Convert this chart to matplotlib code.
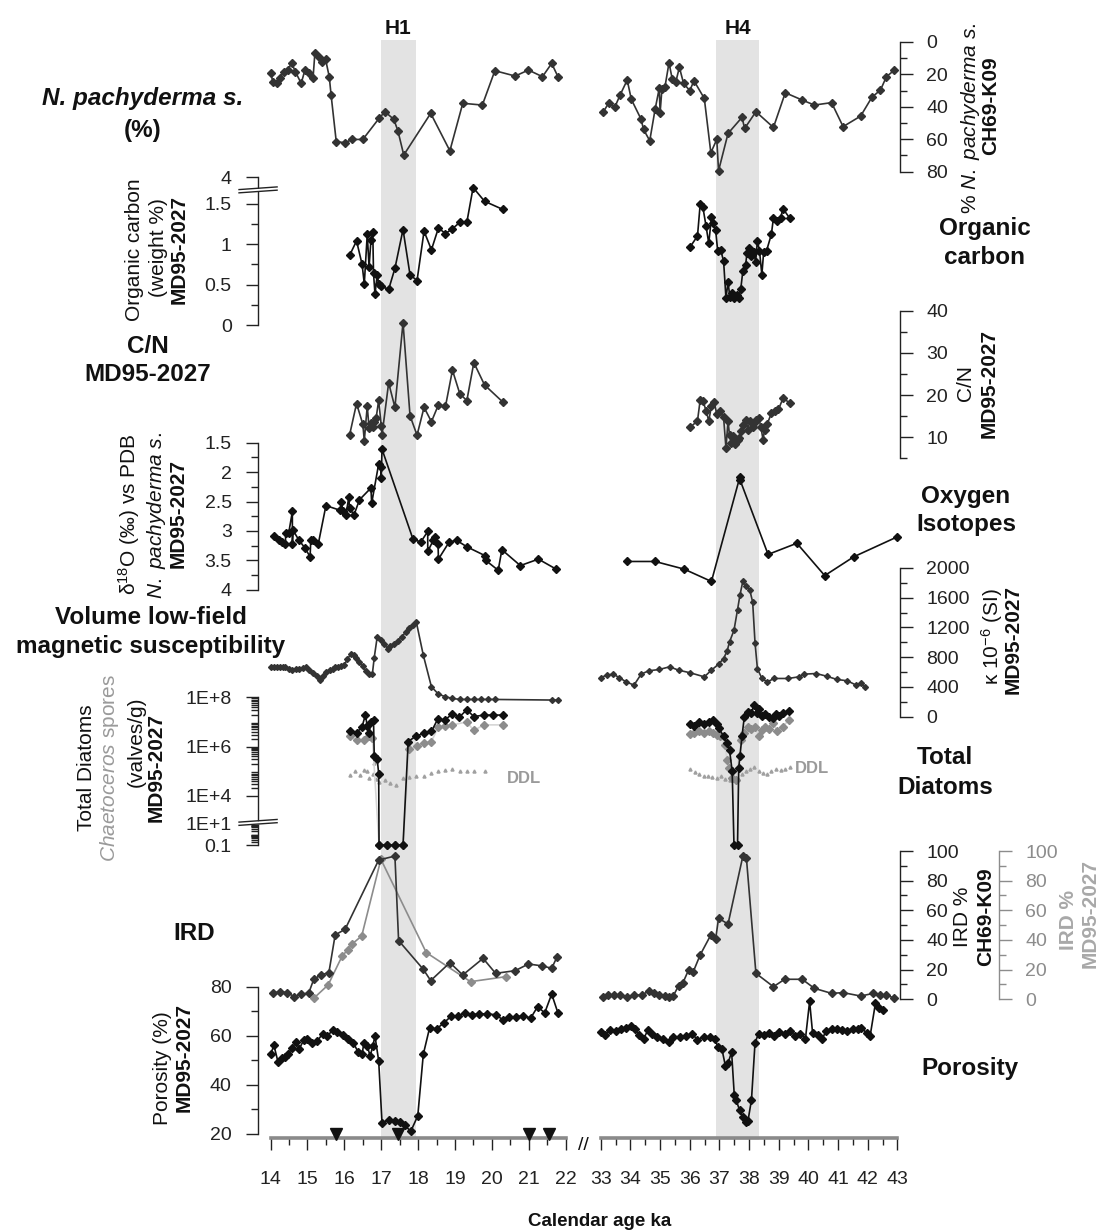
import matplotlib
matplotlib.use("Agg")
import matplotlib.pyplot as plt
import numpy as np

plt.rcParams['font.family'] = ['Liberation Sans', 'DejaVu Sans']
plt.rcParams['mathtext.fontset'] = 'custom'
plt.rcParams['mathtext.rm'] = 'Liberation Sans'
plt.rcParams['mathtext.it'] = 'Liberation Sans:italic'
plt.rcParams['mathtext.bf'] = 'Liberation Sans:bold'
plt.rcParams['mathtext.default'] = 'regular'

# ---------------- data (calendar age ka) ----------------
# Heinrich events
h1_span = (16.98, 17.95)
h4_span = (36.90, 38.33)
left_ticks = list(range(14, 23))
right_ticks = list(range(33, 44))
age_control = [15.77, 17.45, 21.00, 21.56]

# % N. pachyderma s. (CH69-K09)
np_age_l = [14.00, 14.06, 14.18, 14.25, 14.35, 14.47, 14.57, 14.67, 14.83, 14.93,
            15.03, 15.15, 15.20, 15.30, 15.39, 15.49, 15.59, 15.64, 15.78, 16.02,
            16.21, 16.50, 16.94, 17.10, 17.34, 17.45, 17.61, 18.34, 18.86, 19.21,
            19.74, 20.08, 20.63, 20.99, 21.37, 21.62, 21.79]
np_pct_l = [18.9, 24.5, 25.1, 22.4, 18.3, 17.3, 12.8, 18.3, 25.5, 17.3,
            19.3, 22.4, 7.0, 9.1, 12.1, 10.7, 21.4, 32.7, 61.5, 62.1,
            60.1, 60.1, 47.1, 43.0, 47.7, 54.7, 69.7, 44.0, 67.1, 37.8,
            38.9, 17.7, 21.0, 17.3, 21.4, 13.2, 21.4]
np_age_r = [33.09, 33.26, 33.47, 33.65, 33.89, 34.03, 34.36, 34.44, 34.65, 34.83,
            34.97, 35.00, 35.06, 35.16, 35.30, 35.41, 35.53, 35.65, 35.79, 36.00,
            36.14, 36.49, 36.71, 36.91, 36.97, 37.29, 37.76, 37.85, 38.23, 38.82,
            39.22, 39.79, 40.20, 40.78, 41.17, 41.76, 42.14, 42.43, 42.63, 42.90]
np_pct_r = [43.0, 37.8, 40.3, 32.7, 23.5, 35.4, 47.7, 53.9, 60.9, 41.6,
            28.6, 43.6, 29.2, 28.0, 12.8, 23.0, 24.5, 15.6, 25.5, 30.0,
            23.9, 34.8, 68.3, 60.1, 79.4, 56.4, 46.5, 53.3, 43.0, 52.7,
            31.3, 35.8, 38.9, 37.4, 52.2, 45.7, 34.1, 29.6, 21.4, 17.3]

# Organic carbon (weight %)
oc_age_l = [16.14, 16.33, 16.48, 16.54, 16.62, 16.67, 16.72, 16.77, 16.79, 16.83,
            16.89, 16.93, 17.00, 17.20, 17.37, 17.59, 17.78, 17.97, 18.16, 18.36,
            18.55, 18.74, 18.93, 19.13, 19.32, 19.49, 19.80, 20.29]
oc_val_l = [0.86, 1.04, 0.75, 0.51, 1.12, 0.72, 1.05, 1.15, 0.64, 0.38,
            0.62, 0.51, 0.48, 0.44, 0.70, 1.18, 0.62, 0.55, 1.16, 0.93,
            1.20, 1.13, 1.19, 1.27, 1.27, 1.70, 1.53, 1.43]
oc_age_r = [36.02, 36.26, 36.35, 36.44, 36.55, 36.64, 36.73, 36.79, 36.87, 36.94,
            37.04, 37.14, 37.22, 37.29, 37.35, 37.43, 37.49, 37.58, 37.65, 37.72,
            37.79, 37.88, 37.93, 38.00, 38.08, 38.16, 38.22, 38.28, 38.35, 38.43,
            38.49, 38.59, 38.75, 38.82, 38.94, 39.06, 39.14, 39.37]
oc_val_r = [0.97, 1.10, 1.49, 1.46, 1.22, 1.01, 1.33, 1.26, 1.18, 0.92,
            0.93, 0.79, 0.33, 0.53, 0.35, 0.39, 0.33, 0.37, 0.33, 0.45,
            0.67, 0.74, 0.89, 0.95, 0.85, 0.90, 0.78, 1.04, 0.92, 0.62,
            0.90, 0.92, 1.12, 1.32, 1.29, 1.32, 1.44, 1.32]

# C/N
cn_age_l = [16.14, 16.33, 16.50, 16.54, 16.62, 16.67, 16.72, 16.77, 16.81, 16.86,
            16.93, 17.00, 17.02, 17.20, 17.37, 17.59, 17.78, 17.97, 18.16, 18.36,
            18.55, 18.74, 18.93, 19.13, 19.32, 19.51, 19.80, 20.29]
cn_val_l = [10.5, 18.0, 13.1, 9.2, 17.4, 12.1, 13.5, 12.5, 13.7, 14.5,
            18.8, 12.7, 10.5, 22.9, 17.1, 37.2, 15.1, 10.5, 17.1, 13.7,
            17.7, 17.3, 25.9, 20.3, 18.7, 27.7, 22.4, 18.4]
cn_age_r = [36.02, 36.26, 36.35, 36.44, 36.55, 36.64, 36.73, 36.82, 36.91, 37.02,
            37.14, 37.22, 37.29, 37.34, 37.40, 37.47, 37.53, 37.61, 37.67, 37.73,
            37.81, 37.90, 37.96, 38.02, 38.12, 38.18, 38.23, 38.32, 38.40, 38.47,
            38.52, 38.61, 38.75, 38.87, 38.99, 39.14, 39.37]
cn_val_r = [12.4, 13.9, 18.8, 18.7, 16.3, 13.9, 17.4, 18.4, 15.5, 16.3,
            14.7, 7.4, 13.9, 10.5, 8.7, 10.3, 8.4, 9.4, 9.8, 11.6,
            12.9, 14.1, 11.7, 13.9, 12.4, 13.3, 14.1, 14.5, 12.4, 9.4,
            11.7, 13.1, 15.7, 16.3, 16.6, 19.2, 18.2]

# d18O N. pachyderma s. (permil vs PDB)
d18_age_l = [14.09, 14.22, 14.30, 14.40, 14.41, 14.49, 14.59, 14.59, 14.61, 14.76,
             14.93, 15.07, 15.09, 15.15, 15.29, 15.50, 15.89, 15.92, 15.96, 16.04,
             16.12, 16.14, 16.26, 16.41, 16.72, 16.74, 16.93, 16.99, 17.00, 17.02,
             17.86, 18.07, 18.26, 18.26, 18.41, 18.46, 18.54, 18.55, 18.84, 19.04,
             19.32, 19.81, 19.83, 20.17, 20.27, 20.77, 21.26, 21.74]
d18_val_l = [3.09, 3.16, 3.19, 3.22, 3.04, 3.04, 2.67, 3.22, 2.99, 3.15,
             3.29, 3.44, 3.15, 3.15, 3.23, 2.57, 2.65, 2.50, 2.67, 2.73,
             2.43, 2.61, 2.73, 2.47, 2.27, 2.53, 1.86, 1.91, 2.10, 1.61,
             3.14, 3.19, 3.01, 3.35, 3.16, 3.10, 3.23, 3.48, 3.19, 3.16,
             3.27, 3.42, 3.50, 3.67, 3.32, 3.59, 3.48, 3.65]
d18_age_r = [33.89, 34.83, 35.81, 36.73, 37.69, 37.70, 38.64, 39.61, 40.55, 41.53, 43.00]
d18_val_r = [3.52, 3.52, 3.65, 3.86, 2.08, 2.14, 3.40, 3.21, 3.76, 3.44, 3.10]

# magnetic susceptibility (k 10-6 SI)
ms_age_l = [14.00, 14.08, 14.16, 14.25, 14.33, 14.40, 14.50, 14.59, 14.68, 14.78,
            14.87, 14.96, 15.05, 15.15, 15.25, 15.34, 15.42, 15.51, 15.60, 15.68,
            15.75, 15.83, 15.91, 15.99, 16.08, 16.18, 16.25, 16.32, 16.41, 16.50,
            16.58, 16.66, 16.76, 16.81, 16.89, 17.00, 17.08, 17.17, 17.25, 17.34,
            17.45, 17.56, 17.66, 17.76, 17.85, 17.95, 18.14, 18.36, 18.55, 18.74,
            18.93, 19.13, 19.32, 19.51, 19.71, 19.90, 20.09, 21.64, 21.78]
ms_val_l = [670, 665, 662, 668, 672, 670, 645, 626, 640, 648,
            660, 662, 630, 590, 545, 500, 550, 603, 625, 645,
            662, 672, 680, 693, 770, 849, 830, 796, 740, 679,
            620, 581, 581, 796, 1073, 1028, 975, 916, 950, 974,
            1020, 1073, 1140, 1198, 1240, 1274, 827, 402, 304, 268,
            246, 232, 232, 232, 232, 232, 232, 224, 224]
ms_age_r = [33.00, 33.20, 33.42, 33.62, 33.85, 34.12, 34.36, 34.61, 34.97, 35.32,
            35.62, 36.02, 36.49, 36.73, 36.97, 37.14, 37.26, 37.34, 37.49, 37.61,
            37.69, 37.79, 37.91, 38.02, 38.12, 38.20, 38.28, 38.43, 38.61, 38.85,
            39.32, 39.67, 39.85, 40.26, 40.61, 40.96, 41.31, 41.61, 41.78, 41.90]
ms_val_r = [527, 559, 572, 527, 469, 425, 572, 617, 635, 671,
            626, 590, 536, 626, 706, 782, 885, 1006, 1162, 1439,
            1632, 1824, 1752, 1708, 1542, 992, 648, 514, 469, 514,
            514, 536, 572, 581, 545, 501, 483, 425, 447, 393]

# total diatoms / Chaetoceros spores / DDL (valves/g); 0.1 = none found
td_age_l = [16.14, 16.33, 16.48, 16.57, 16.62, 16.67, 16.72, 16.79, 16.81, 16.89,
            16.93, 16.94, 17.15, 17.37, 17.59, 17.73, 17.93, 18.16, 18.36, 18.53,
            18.72, 18.93, 19.11, 19.32, 19.51, 19.78, 20.04, 20.29]
td_val_l = [4.1e6, 3.5e6, 6.5e6, 1.9e7, 6.9e6, 3.7e6, 1.0e7, 1.15e7, 4.0e5, 3.1e5,
            8.0e4, 0.1, 0.1, 0.1, 0.1, 1.6e6, 2.6e6, 3.5e6, 4.1e6, 1.3e7,
            1.2e7, 2.1e7, 1.55e7, 3.1e7, 1.65e7, 1.9e7, 1.9e7, 1.9e7]
ch_age_l = [16.14, 16.33, 16.52, 16.67, 16.76, 16.94, 17.15, 17.37, 17.59, 17.76,
            17.96, 18.16, 18.36, 18.55, 18.74, 18.93, 19.32, 19.51, 19.78, 20.29]
ch_val_l = [2.6e6, 1.8e6, 1.9e6, 2.6e6, 2.2e6, 0.1, 0.1, 0.1, 0.1, 7.8e5,
            1.07e6, 1.45e6, 1.6e6, 6.5e6, 6.9e6, 7.6e6, 1.0e7, 4.5e6, 7.6e6, 7.6e6]
ddl_age_l = [16.14, 16.28, 16.43, 16.52, 16.62, 16.67, 16.77, 16.81, 16.86, 16.93,
             17.10, 17.25, 17.39, 17.59, 17.76, 17.95, 18.15, 18.36, 18.53, 18.74,
             18.93, 19.13, 19.32, 19.51, 19.80]
ddl_val_l = [7.2e4, 9.8e4, 7.2e4, 1.15e5, 9.8e4, 5.3e4, 7.9e4, 2.2e5, 4.8e4, 3.5e4,
             4.3e4, 3.3e4, 2.8e4, 5.3e4, 5.7e4, 6.2e4, 6.6e4, 8.3e4, 9.8e4, 1.15e5,
             1.2e5, 9.8e4, 9.8e4, 9.8e4, 9.8e4]
td_age_r = [36.00, 36.14, 36.32, 36.49, 36.64, 36.79, 36.91, 36.99, 37.14, 37.26,
            37.34, 37.43, 37.49, 37.61, 37.65, 37.69, 37.76, 37.84, 37.96, 38.08,
            38.16, 38.26, 38.35, 38.43, 38.55, 38.67, 38.79, 38.90, 39.02, 39.14,
            39.34]
td_val_r = [8.3e6, 6.9e6, 1.0e7, 8.3e6, 1.0e7, 1.2e7, 8.3e6, 5.5e6, 2.6e6, 1.4e6,
            7.4e5, 9.8e4, 0.1, 0.1, 1.35e5, 4.0e5, 2.6e6, 1.65e7, 2.6e7, 2.25e7,
            4.9e7, 2.4e7, 3.2e7, 1.75e7, 2.1e7, 1.65e7, 1.4e7, 2.1e7, 1.75e7, 2.25e7,
            2.9e7]
ch_age_r = [36.00, 36.14, 36.32, 36.49, 36.64, 36.79, 36.91, 37.03, 37.18, 37.26,
            37.32, 37.43, 37.55, 37.73, 37.84, 37.96, 38.08, 38.20, 38.32, 38.43,
            38.55, 38.67, 38.82, 38.94, 39.14, 39.34]
ch_val_r = [3.3e6, 3.5e6, 4.1e6, 3.5e6, 4.1e6, 3.5e6, 2.95e6, 2.6e6, 1.2e6, 2.9e5,
            1.35e5, 5.3e4, 4.3e4, 1.9e6, 3.5e6, 6.5e6, 5.0e6, 6.5e6, 2.7e6, 4.8e6,
            6.5e6, 5.0e6, 8.9e6, 4.1e6, 6.5e6, 1.2e7]
ddl_age_r = [36.00, 36.17, 36.32, 36.47, 36.61, 36.75, 36.91, 37.06, 37.20, 37.34,
             37.49, 37.61, 37.76, 37.90, 38.04, 38.16, 38.32, 38.47, 38.61, 38.75,
             38.90, 39.06, 39.20, 39.38]
ddl_val_r = [1.2e5, 8.9e4, 7.9e4, 6.2e4, 6.6e4, 5.7e4, 5.3e4, 6.2e4, 4.8e4, 4.3e4,
             4.3e4, 4.8e4, 7.9e4, 9.8e4, 1.2e5, 1.5e5, 9.8e4, 8.3e4, 7.9e4, 9.8e4,
             1.2e5, 1.07e5, 1.2e5, 1.55e5]

# IRD % (CH69-K09 black, MD95-2027 grey)
ird_age_l = [14.06, 14.25, 14.45, 14.64, 14.83, 15.03, 15.17, 15.36, 15.58, 15.75,
             16.02, 16.93, 17.37, 17.47, 18.14, 18.34, 18.86, 19.21, 19.76, 20.10,
             20.63, 20.99, 21.37, 21.62, 21.76]
ird_val_l = [4.0, 5.2, 4.5, 1.8, 3.6, 4.0, 13.5, 16.4, 18.0, 43.4,
             47.2, 93.9, 96.6, 39.6, 20.2, 12.6, 24.7, 16.4, 27.6, 17.5,
             19.3, 23.8, 22.5, 20.9, 28.3]
ird2_age_l = [15.17, 15.56, 15.94, 16.09, 16.21, 16.47, 16.99, 18.22, 19.42, 20.39]
ird2_val_l = [0.7, 9.7, 29.2, 33.3, 37.3, 42.7, 94.4, 31.5, 11.9, 15.3]
ird_age_r = [33.06, 33.23, 33.44, 33.65, 33.89, 34.12, 34.38, 34.64, 34.79, 34.97,
             35.15, 35.30, 35.44, 35.62, 35.77, 35.96, 36.12, 36.35, 36.71, 36.87,
             36.97, 37.29, 37.79, 37.91, 38.23, 38.82, 39.20, 39.79, 40.20, 40.78,
             41.17, 41.76, 42.19, 42.43, 42.63, 42.90]
ird_val_r = [1.8, 2.9, 2.9, 2.9, 1.8, 2.9, 2.9, 5.8, 4.0, 2.9,
             2.2, 1.8, 2.2, 9.0, 11.2, 19.8, 18.7, 29.9, 43.4, 40.4,
             54.6, 50.8, 96.6, 95.1, 17.5, 8.5, 13.5, 13.5, 7.4, 4.0,
             4.5, 2.2, 4.0, 2.9, 2.9, 0.7]

# porosity %
po_age_l = [14.00, 14.09, 14.20, 14.30, 14.40, 14.47, 14.59, 14.69, 14.78, 14.90,
            15.00, 15.12, 15.27, 15.41, 15.54, 15.68, 15.80, 15.95, 16.09, 16.24,
            16.38, 16.48, 16.53, 16.62, 16.70, 16.77, 16.83, 16.93, 17.02, 17.20,
            17.38, 17.50, 17.63, 17.80, 17.99, 18.14, 18.31, 18.50, 18.69, 18.89,
            19.08, 19.28, 19.47, 19.66, 19.86, 20.10, 20.29, 20.46, 20.66, 20.85,
            21.05, 21.24, 21.43, 21.62, 21.79]
po_val_l = [52.5, 56.1, 49.4, 51.1, 51.5, 52.5, 55.2, 57.4, 54.8, 58.3,
            58.5, 56.9, 57.9, 60.9, 59.9, 62.3, 61.5, 60.5, 58.8, 57.2,
            53.2, 52.5, 57.2, 55.8, 51.8, 55.8, 59.9, 49.8, 24.6, 25.8,
            25.4, 24.9, 23.6, 21.1, 27.4, 52.5, 63.2, 62.8, 65.2, 67.9,
            68.2, 69.3, 68.6, 69.0, 68.9, 68.6, 66.6, 67.7, 67.7, 68.2,
            67.2, 71.9, 69.3, 77.0, 69.3]
po_age_r = [33.00, 33.15, 33.32, 33.50, 33.68, 33.85, 34.03, 34.14, 34.28, 34.44,
            34.59, 34.73, 34.91, 35.09, 35.30, 35.44, 35.67, 35.88, 36.08, 36.26,
            36.47, 36.67, 36.85, 36.94, 37.08, 37.20, 37.29, 37.41, 37.50, 37.56,
            37.68, 37.78, 37.89, 37.96, 38.08, 38.20, 38.32, 38.49, 38.67, 38.85,
            39.02, 39.20, 39.37, 39.55, 39.73, 39.90, 40.04, 40.14, 40.31, 40.47,
            40.59, 40.78, 40.96, 41.14, 41.31, 41.49, 41.66, 41.78, 41.96, 42.08,
            42.26, 42.38, 42.51]
po_val_r = [61.5, 60.5, 62.3, 61.9, 62.6, 63.2, 63.9, 62.8, 60.5, 58.8,
            62.3, 60.9, 59.6, 58.8, 57.4, 59.6, 59.6, 60.1, 60.9, 58.3,
            59.6, 59.6, 58.5, 55.6, 54.8, 47.8, 48.9, 53.4, 35.9, 33.9,
            29.7, 27.0, 24.7, 25.2, 33.9, 57.2, 60.9, 60.5, 61.2, 60.1,
            61.5, 60.9, 61.9, 60.1, 60.9, 58.8, 74.0, 61.2, 60.5, 58.8,
            61.9, 62.6, 62.8, 62.3, 61.9, 62.6, 62.8, 63.2, 61.2, 59.9,
            73.3, 71.3, 70.6]

# ---------------- layout ----------------
W, H = 1102, 1232
fig = plt.figure(figsize=(W / 100, H / 100), dpi=100)
fig.patch.set_facecolor('white')

PANELS = [(270.6, 565.7, (14, 22)), (600.8, 897.4, (33, 43))]
AXC = '#222222'
DARK = '#333333'
BLACK = '#111111'
GREY = '#8c8c8c'
PX = 0.72  # points per pixel at 100 dpi


def rect(x0, x1, ytop, ybot):
    return [x0 / W, 1 - ybot / H, (x1 - x0) / W, (ybot - ytop) / H]


def bare(r, xlim, ylim, scale=None):
    ax = fig.add_axes(r)
    if scale is not None:
        ax.set_yscale('function', functions=scale)
    ax.set_xlim(*xlim)
    ax.set_ylim(*ylim)
    ax.patch.set_visible(False)
    for s in ax.spines.values():
        s.set_visible(False)
    ax.tick_params(which='both', bottom=False, top=False, left=False, right=False,
                   labelbottom=False, labelleft=False)
    return ax


def pair(ytop, ybot, ylim, scale=None):
    return [bare(rect(x0, x1, ytop, ybot), xl, ylim, scale) for x0, x1, xl in PANELS]


def yaxis(ax, side, major, minor=(), labels=None, offset_px=12.5, color=AXC):
    sp = ax.spines[side]
    sp.set_visible(True)
    sp.set_position(('outward', offset_px * PX))
    sp.set_color(color)
    sp.set_linewidth(1)
    ax.yaxis.set_ticks_position(side)
    ax.set_yticks(major)
    if labels is not None:
        ax.set_yticklabels(labels)
    ax.set_yticks(list(minor), minor=True)
    ax.tick_params(axis='y', which='major', length=9, width=1, color=color,
                   labelcolor=color, labelsize=14, pad=10,
                   **{side: True, 'label' + side: True})
    ax.tick_params(axis='y', which='minor', length=4.8, width=1, color=color,
                   **{side: True})


def line(ax, x, y, color, ms=3.8, lw=1.2, **kw):
    ax.plot(x, y, color=color, lw=lw, marker='D', ms=ms, mfc=color, mec=color,
            clip_on=False, **kw)


def axis_break(ax, frac):
    xs = [-0.107, 0.022]
    lo = [frac - 0.012, frac + 0.006]
    hi = [frac + 0.010, frac + 0.028]
    ax.fill_between(xs, lo, hi, color='white', transform=ax.transAxes,
                    clip_on=False, zorder=5, lw=0)
    for yy in (lo, hi):
        ax.plot(xs, yy, color=AXC, lw=1, transform=ax.transAxes, clip_on=False, zorder=6)


def ptext(x, y, s, **kw):
    kw.setdefault('ha', 'center')
    kw.setdefault('va', 'center')
    fig.text(x / W, 1 - y / H, s, **kw)


# Heinrich shading
for (x0, x1, xl), span, name in zip(PANELS, (h1_span, h4_span), ('H1', 'H4')):
    bg = bare(rect(x0, x1, 40, 1140), xl, (0, 1))
    bg.axvspan(span[0], span[1], color='#e3e3e3', lw=0)
    bg.text(sum(span) / 2, 1 + 12 / 1100, name, transform=bg.get_xaxis_transform(),
            ha='center', va='center', fontsize=15, fontweight='bold', color=BLACK)

# N. pachyderma s.
npL, npR = pair(42, 171.7, (80, 0))
line(npL, np_age_l, np_pct_l, DARK)
line(npR, np_age_r, np_pct_r, DARK)
yaxis(npR, 'right', [0, 20, 40, 60, 80], [10, 30, 50, 70], offset_px=2.6)

# organic carbon (broken axis, top tick = 4)
ocL, ocR = pair(177, 325, (0, 1.83))
line(ocL, oc_age_l, oc_val_l, BLACK)
line(ocR, oc_age_r, oc_val_r, BLACK)
yaxis(ocL, 'left', [0, 0.5, 1, 1.5, 1.83], [0.25, 0.75, 1.25],
      labels=['0', '0.5', '1', '1.5', '4'])
axis_break(ocL, 0.905)

# C/N
cnL, cnR = pair(310.7, 458.4, (5, 40))
line(cnL, cn_age_l, cn_val_l, DARK)
line(cnR, cn_age_r, cn_val_r, DARK)
yaxis(cnR, 'right', [10, 20, 30, 40], [5, 15, 25, 35], offset_px=2.6)

# oxygen isotopes
oxL, oxR = pair(442.7, 589.7, (4, 1.5))
line(oxL, d18_age_l, d18_val_l, BLACK)
line(oxR, d18_age_r, d18_val_r, BLACK)
yaxis(oxL, 'left', [1.5, 2, 2.5, 3, 3.5, 4], [1.75, 2.25, 2.75, 3.25, 3.75],
      labels=['1.5', '2', '2.5', '3', '3.5', '4'])

# magnetic susceptibility
msL, msR = pair(568, 716.7, (0, 2000))
line(msL, ms_age_l, ms_val_l, DARK, ms=3)
line(msR, ms_age_r, ms_val_r, DARK, ms=3)
yaxis(msR, 'right', [0, 400, 800, 1200, 1600, 2000], [200, 600, 1000, 1400, 1800],
      offset_px=2.6)


# diatoms: log axis, compressed below 1E+4
def d_fwd(y):
    L = np.log10(np.maximum(np.asarray(y, dtype=float), 1e-6))
    return np.where(L >= 4, L, np.where(L >= 1, 4 - (4 - L) * 0.368, 2.896 - (1 - L) * 0.445))


def d_inv(u):
    u = np.asarray(u, dtype=float)
    with np.errstate(over='ignore'):
        return np.where(u >= 4, 10.0 ** u,
                        np.where(u >= 2.896, 10.0 ** (4 - (4 - u) / 0.368),
                                 10.0 ** (1 - (2.896 - u) / 0.445)))


dtL, dtR = pair(697.3, 845, (0.1, 1e8), scale=(d_fwd, d_inv))
for ax, ca, cv, ta, tv, da, dv in ((dtL, ch_age_l, ch_val_l, td_age_l, td_val_l, ddl_age_l, ddl_val_l),
                                   (dtR, ch_age_r, ch_val_r, td_age_r, td_val_r, ddl_age_r, ddl_val_r)):
    ax.plot(da, dv, ls='none', marker='^', ms=2.2, color='#a0a0a0', clip_on=False)
    ax.plot(ca, cv, color='#d6d6d6', lw=1.2, clip_on=False)
    ax.plot(ca, cv, ls='none', marker='D', ms=4.2, color=GREY, clip_on=False)
    line(ax, ta, tv, BLACK)
dtL.text(20.41, 5.2e4, 'DDL', color='#9a9a9a', fontsize=12, fontweight='bold', va='center')
dtR.text(39.55, 1.26e5, 'DDL', color='#9a9a9a', fontsize=12, fontweight='bold', va='center')
d_minor = [k * 10.0 ** d for d in range(4, 8) for k in range(2, 10)] + \
          [k * 10.0 ** d for d in (-1, 0) for k in range(2, 10)]
yaxis(dtL, 'left', [0.1, 10, 1e4, 1e6, 1e8], d_minor,
      labels=['0.1', '1E+1', '1E+4', '1E+6', '1E+8'])
dtL.tick_params(axis='y', which='minor', length=5)
axis_break(dtL, 0.145)

# IRD
irL, irR = pair(851, 999.3, (0, 100))
line(irL, ird2_age_l, ird2_val_l, GREY)
line(irL, ird_age_l, ird_val_l, DARK)
line(irR, ird_age_r, ird_val_r, DARK)
yaxis(irR, 'right', [0, 20, 40, 60, 80, 100], [10, 30, 50, 70, 90], offset_px=2.6)
irG = bare(rect(600.8, 897.4, 851, 999.3), (33, 43), (0, 100))
yaxis(irG, 'right', [0, 20, 40, 60, 80, 100], [10, 30, 50, 70, 90], offset_px=101.6,
      color=GREY)

# porosity + time axis
poL, poR = pair(986.7, 1134, (20, 80))
line(poL, po_age_l, po_val_l, BLACK)
line(poR, po_age_r, po_val_r, BLACK)
yaxis(poL, 'left', [20, 40, 60, 80], [30, 50, 70])
poL.plot(age_control, [20] * len(age_control), ls='none', marker='v', ms=8,
         color=BLACK, clip_on=False, zorder=5)
for ax, ticks in ((poL, left_ticks), (poR, right_ticks)):
    sp = ax.spines['bottom']
    sp.set_visible(True)
    sp.set_position(('outward', 4 * PX))
    sp.set_color('#8a8a8a')
    sp.set_linewidth(2.6)
    ax.xaxis.set_ticks_position('bottom')
    ax.set_xticks(ticks)
    ax.set_xticklabels([str(t) for t in ticks])
    ax.set_xticks([t + 0.5 for t in ticks[:-1]], minor=True)
    ax.tick_params(axis='x', which='major', bottom=True, labelbottom=True, length=8.6,
                   width=1, color=AXC, labelcolor=AXC, labelsize=14, pad=15)
    ax.tick_params(axis='x', which='minor', bottom=True, length=5, width=1, color=AXC)

# ---------------- labels ----------------
B = dict(fontweight='bold', color=BLACK)
# left side
ptext(143, 99, 'N. pachyderma s.', fontsize=17.5, fontstyle='italic', **B)
ptext(143, 130, '(%)', fontsize=17.5, **B)
ptext(135, 250, 'Organic carbon', fontsize=15, rotation=90, color=BLACK)
ptext(158, 248, '(weight %)', fontsize=15, rotation=90, color=BLACK)
ptext(179, 249, 'MD95-2027', fontsize=15, rotation=90, **B)
ptext(148, 347, 'C/N', fontsize=17.5, **B)
ptext(148, 375, 'MD95-2027', fontsize=17.5, **B)
ptext(129, 514, 'δ$^{18}$O (‰) vs PDB', fontsize=15, rotation=90, color=BLACK)
ptext(156, 515, r'$\mathit{N.\ pachyderma\ s.}$', fontsize=15, rotation=90, color=BLACK)
ptext(178, 514, 'MD95-2027', fontsize=15, rotation=90, **B)
ptext(151, 618, 'Volume low-field', fontsize=17.5, **B)
ptext(151, 646, 'magnetic susceptibility', fontsize=17.5, **B)
ptext(87, 768, 'Total Diatoms', fontsize=15, rotation=90, color=BLACK)
ptext(110, 768, r'$\mathit{Chaetoceros}$ spores', fontsize=15, rotation=90, color='#9a9a9a')
ptext(136, 742, '(valves/g)', fontsize=15, rotation=90, color=BLACK)
ptext(156, 768, 'MD95-2027', fontsize=15, rotation=90, **B)
ptext(194, 934, 'IRD', fontsize=17.5, **B)
ptext(162, 1068, 'Porosity (%)', fontsize=15, rotation=90, color=BLACK)
ptext(184, 1057, 'MD95-2027', fontsize=15, rotation=90, **B)

# right side
ptext(970, 118, r'% $\mathit{N.\ pachyderma\ s.}$', fontsize=15, rotation=90, color=BLACK)
ptext(991, 106, 'CH69-K09', fontsize=15, rotation=90, **B)
ptext(985, 229, 'Organic', fontsize=17.5, **B)
ptext(985, 258, 'carbon', fontsize=17.5, **B)
ptext(966, 383, 'C/N', fontsize=15, rotation=90, color=BLACK)
ptext(989, 384, 'MD95-2027', fontsize=15, rotation=90, **B)
ptext(966, 497, 'Oxygen', fontsize=17.5, **B)
ptext(966, 525, 'Isotopes', fontsize=17.5, **B)
ptext(992, 637, 'κ 10$^{-6}$ (SI)', fontsize=15, rotation=90, color=BLACK)
ptext(1013, 640, 'MD95-2027', fontsize=15, rotation=90, **B)
ptext(945, 757, 'Total', fontsize=17.5, **B)
ptext(945, 787, 'Diatoms', fontsize=17.5, **B)
ptext(963, 917, 'IRD %', fontsize=15, rotation=90, color=BLACK)
ptext(986, 917, 'CH69-K09', fontsize=15, rotation=90, **B)
ptext(1068, 920, 'IRD %', fontsize=15, rotation=90, fontweight='bold', color='#a8a8a8')
ptext(1090, 913, 'MD95-2027', fontsize=15, rotation=90, fontweight='bold', color='#a8a8a8')
ptext(970, 1068, 'Porosity', fontsize=17.5, **B)

# time axis
ptext(583, 1146, '//', fontsize=14, color=BLACK)
ptext(600, 1222, 'Calendar age ka', fontsize=13.5, **B)

fig.savefig('out.png', dpi=100, facecolor='white')
